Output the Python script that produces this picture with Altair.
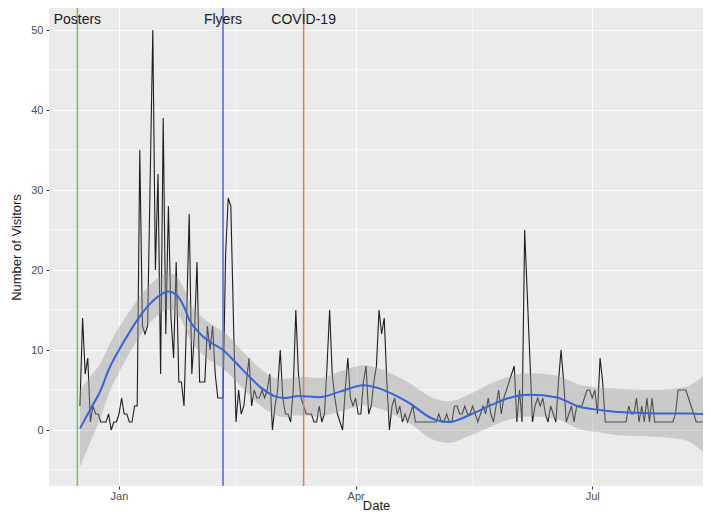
import altair as alt
import pandas as pd

# ---------------- data ----------------
visit_dates = [
    "2019-12-17", "2019-12-18", "2019-12-19", "2019-12-20", "2019-12-21", "2019-12-22",
    "2019-12-23", "2019-12-24", "2019-12-25", "2019-12-26", "2019-12-27", "2019-12-28",
    "2019-12-29", "2019-12-30", "2019-12-31", "2020-01-01", "2020-01-02", "2020-01-03",
    "2020-01-04", "2020-01-05", "2020-01-06", "2020-01-07", "2020-01-08", "2020-01-09",
    "2020-01-10", "2020-01-11", "2020-01-12", "2020-01-14", "2020-01-15", "2020-01-16",
    "2020-01-17", "2020-01-18", "2020-01-19", "2020-01-20", "2020-01-21", "2020-01-22",
    "2020-01-23", "2020-01-24", "2020-01-25", "2020-01-26", "2020-01-27", "2020-01-28",
    "2020-01-29", "2020-01-30", "2020-01-31", "2020-02-01", "2020-02-02", "2020-02-03",
    "2020-02-04", "2020-02-05", "2020-02-06", "2020-02-07", "2020-02-08", "2020-02-09",
    "2020-02-10", "2020-02-11", "2020-02-12", "2020-02-13", "2020-02-14", "2020-02-15",
    "2020-02-16", "2020-02-17", "2020-02-18", "2020-02-19", "2020-02-20", "2020-02-21",
    "2020-02-22", "2020-02-23", "2020-02-24", "2020-02-25", "2020-02-26", "2020-02-27",
    "2020-02-28", "2020-02-29", "2020-03-01", "2020-03-02", "2020-03-03", "2020-03-04",
    "2020-03-05", "2020-03-06", "2020-03-07", "2020-03-08", "2020-03-09", "2020-03-10",
    "2020-03-11", "2020-03-12", "2020-03-13", "2020-03-14", "2020-03-15", "2020-03-16",
    "2020-03-17", "2020-03-18", "2020-03-19", "2020-03-20", "2020-03-21", "2020-03-22",
    "2020-03-23", "2020-03-24", "2020-03-25", "2020-03-26", "2020-03-27", "2020-03-28",
    "2020-03-29", "2020-03-30", "2020-03-31", "2020-04-01", "2020-04-02", "2020-04-03",
    "2020-04-04", "2020-04-05", "2020-04-06", "2020-04-07", "2020-04-08", "2020-04-09",
    "2020-04-10", "2020-04-11", "2020-04-12", "2020-04-13", "2020-04-14", "2020-04-15",
    "2020-04-16", "2020-04-17", "2020-04-18", "2020-04-19", "2020-04-20", "2020-04-21",
    "2020-04-22", "2020-04-23", "2020-04-24", "2020-05-02", "2020-05-03", "2020-05-04",
    "2020-05-05", "2020-05-06", "2020-05-07", "2020-05-08", "2020-05-09", "2020-05-10",
    "2020-05-11", "2020-05-12", "2020-05-13", "2020-05-14", "2020-05-15", "2020-05-16",
    "2020-05-17", "2020-05-18", "2020-05-19", "2020-05-20", "2020-05-21", "2020-05-22",
    "2020-05-23", "2020-05-24", "2020-05-25", "2020-05-26", "2020-05-27", "2020-05-28",
    "2020-05-29", "2020-05-30", "2020-05-31", "2020-06-01", "2020-06-02", "2020-06-03",
    "2020-06-04", "2020-06-05", "2020-06-06", "2020-06-07", "2020-06-08", "2020-06-09",
    "2020-06-10", "2020-06-11", "2020-06-12", "2020-06-13", "2020-06-14", "2020-06-15",
    "2020-06-16", "2020-06-17", "2020-06-18", "2020-06-19", "2020-06-20", "2020-06-21",
    "2020-06-22", "2020-06-23", "2020-06-24", "2020-06-25", "2020-06-26", "2020-06-27",
    "2020-06-28", "2020-06-29", "2020-06-30", "2020-07-01", "2020-07-02", "2020-07-03",
    "2020-07-04", "2020-07-05", "2020-07-06", "2020-07-14", "2020-07-15", "2020-07-16",
    "2020-07-17", "2020-07-18", "2020-07-19", "2020-07-20", "2020-07-21", "2020-07-22",
    "2020-07-23", "2020-07-24", "2020-07-25", "2020-08-01", "2020-08-02", "2020-08-03",
    "2020-08-04", "2020-08-05", "2020-08-06", "2020-08-07", "2020-08-08", "2020-08-09",
    "2020-08-10", "2020-08-16",
]
visit_counts = [
    3, 14, 7, 9, 1, 3,
    2, 2, 1, 1, 1, 2,
    0, 1, 1, 2, 4, 2,
    2, 1, 1, 3, 3, 35,
    13, 12, 13, 50, 20, 32,
    7, 39, 12, 28, 14, 9,
    21, 6, 6, 3, 14, 27,
    7, 12, 21, 6, 6, 6,
    13, 10, 13, 7, 4, 4,
    4, 22, 29, 28, 14, 1,
    5, 2, 3, 6, 9, 3,
    5, 4, 4, 5, 4, 5,
    7, 0, 3, 5, 10, 4,
    2, 2, 1, 5, 15, 7,
    4, 3, 2, 2, 2, 1,
    1, 3, 1, 2, 8, 15,
    7, 4, 2, 1, 0, 5,
    9, 4, 3, 4, 2, 2,
    6, 8, 2, 3, 6, 8,
    15, 12, 14, 6, 0, 3,
    4, 2, 3, 1, 2, 1,
    2, 3, 1, 1, 2, 1,
    1, 2, 1, 1, 3, 3,
    2, 2, 3, 2, 2, 3,
    2, 1, 2, 3, 2, 4,
    2, 1, 3, 5, 2, 4,
    5, 6, 7, 8, 1, 5,
    1, 25, 17, 9, 1, 3,
    4, 3, 4, 2, 1, 3,
    2, 1, 6, 10, 6, 1,
    2, 3, 1, 3, 3, 3,
    4, 5, 5, 4, 5, 2,
    9, 6, 1, 1, 3, 2,
    2, 4, 1, 3, 1, 4,
    1, 4, 1, 1, 2, 5,
    5, 5, 5, 4, 3, 2,
    1, 1,
]

smooth_dates = [
    "2019-12-17", "2019-12-21", "2019-12-25", "2019-12-28", "2020-01-01", "2020-01-05",
    "2020-01-09", "2020-01-13", "2020-01-17", "2020-01-20", "2020-01-23", "2020-01-26",
    "2020-01-28", "2020-02-01", "2020-02-05", "2020-02-10", "2020-02-15", "2020-02-20",
    "2020-02-25", "2020-03-01", "2020-03-05", "2020-03-10", "2020-03-18", "2020-03-26",
    "2020-04-04", "2020-04-10", "2020-04-17", "2020-04-22", "2020-04-30", "2020-05-07",
    "2020-05-15", "2020-05-23", "2020-05-30", "2020-06-07", "2020-06-17", "2020-06-26",
    "2020-07-04", "2020-07-11", "2020-07-23", "2020-08-02", "2020-08-08", "2020-08-11",
    "2020-08-16",
]
smooth_fit = [
    0.2, 2.6, 5.0, 7.5, 10.0, 12.2,
    14.2, 15.8, 16.9, 17.3, 16.9, 15.4,
    13.8, 12.1, 11.0, 10.0, 8.4, 6.7,
    5.2, 4.2, 4.0, 4.25, 4.1, 4.8,
    5.6, 5.2, 4.2, 3.3, 1.5, 1.0,
    1.9, 3.1, 4.0, 4.4, 4.1, 2.9,
    2.5, 2.25, 2.1, 2.05, 2.05, 2.0,
    2.0,
]
smooth_se = [
    4.8, 4.1, 3.4, 3.0, 2.8, 2.6,
    2.5, 2.4, 2.3, 2.3, 2.3, 2.3,
    2.3, 2.3, 2.3, 2.3, 2.3, 2.3,
    2.3, 2.3, 2.4, 2.4, 2.4, 2.5,
    2.5, 2.5, 2.5, 2.5, 2.6, 2.6,
    2.6, 2.7, 2.7, 2.7, 2.7, 2.8,
    2.8, 2.9, 2.9, 3.1, 3.6, 4.3,
    5.6,
]

event_dates = ["2019-12-16", "2020-02-10", "2020-03-12"]
event_labels = ["Posters", "Flyers", "COVID-19"]
event_colors = ["#74C24E", "#5468CC", "#E8785A"]

minor_x = ["2020-02-15", "2020-05-16"]
minor_y = [-5, 5, 15, 25, 35, 45]

# ---------------- tables ----------------
visits = pd.DataFrame({"date": visit_dates, "visitors": visit_counts})
smooth = pd.DataFrame({"date": smooth_dates, "fit": smooth_fit, "se": smooth_se})
smooth["lo"] = smooth["fit"] - smooth["se"]
smooth["hi"] = smooth["fit"] + smooth["se"]
events = pd.DataFrame({"date": event_dates, "label": event_labels})
mx = pd.DataFrame({"date": minor_x})
my = pd.DataFrame({"v": minor_y})

FONT = "Liberation Sans"
x_scale = alt.Scale(
    type="utc",
    domain=[
        alt.DateTime(year=2019, month=12, date=5, hours=2, utc=True),
        alt.DateTime(year=2020, month=8, date=12, hours=14, utc=True),
    ],
    nice=False,
)
y_scale = alt.Scale(domain=[-7.0, 52.75], nice=False, zero=False)

x_axis = alt.Axis(
    values=[
        alt.DateTime(year=2020, month=1, date=1, utc=True),
        alt.DateTime(year=2020, month=4, date=1, utc=True),
        alt.DateTime(year=2020, month=7, date=1, utc=True),
    ],
    format="%b",
    title="Date",
    grid=True,
    titleY=23,
    titleBaseline="alphabetic",
)
y_axis = alt.Axis(values=[0, 10, 20, 30, 40, 50], title="Number of Visitors", grid=True)

minor_x_rules = alt.Chart(mx).mark_rule(color="white", strokeWidth=0.6).encode(
    x=alt.X("date:T", scale=x_scale, axis=x_axis)
)
minor_y_rules = alt.Chart(my).mark_rule(color="white", strokeWidth=0.6).encode(
    y=alt.Y("v:Q", scale=y_scale, axis=y_axis)
)

vlines = alt.Chart(events).mark_rule(strokeWidth=1.5).encode(
    x=alt.X("date:T", scale=x_scale),
    color=alt.Color(
        "label:N",
        scale=alt.Scale(domain=event_labels, range=event_colors),
        legend=None,
    ),
)

line = alt.Chart(visits).mark_line(color="#1E1E1E", strokeWidth=1.1, clip=True).encode(
    x=alt.X("date:T", scale=x_scale),
    y=alt.Y("visitors:Q", scale=y_scale),
)

ribbon = alt.Chart(smooth).mark_area(
    color="#999999", opacity=0.4, interpolate="monotone", clip=True
).encode(
    x=alt.X("date:T", scale=x_scale),
    y=alt.Y("lo:Q", scale=y_scale),
    y2="hi:Q",
)

fit_line = alt.Chart(smooth).mark_line(
    color="#3864D6", strokeWidth=2, interpolate="monotone", clip=True
).encode(
    x=alt.X("date:T", scale=x_scale),
    y=alt.Y("fit:Q", scale=y_scale),
)

labels = alt.Chart(events).mark_text(
    font=FONT, fontSize=14, color="#1A1A1A", align="center", baseline="middle"
).encode(
    x=alt.X("date:T", scale=x_scale),
    y=alt.datum(51.2),
    text="label:N",
)

chart = (
    alt.layer(minor_x_rules, minor_y_rules, line, vlines, ribbon, fit_line, labels)
    .properties(
        width=654,
        height=478,
        autosize=alt.AutoSizeParams(type="none"),
        padding={"left": 41, "top": 0, "right": 0, "bottom": 28},
        background="white",
    )
    .configure_view(fill="#EBEBEB", stroke=None)
    .configure_axis(
        domain=False,
        gridColor="white",
        gridWidth=1.1,
        tickColor="#333333",
        tickSize=3,
        tickWidth=1,
        labelColor="#4D4D4D",
        labelFontSize=11,
        labelFont=FONT,
        titleFont=FONT,
        titleFontSize=13,
        titleFontWeight="normal",
        titleColor="#1A1A1A",
    )
    .configure_axisX(labelPadding=1)
    .configure_axisY(labelPadding=3, titlePadding=7)
)

chart.save("out.html", embed_options={"renderer": "svg", "actions": False})
